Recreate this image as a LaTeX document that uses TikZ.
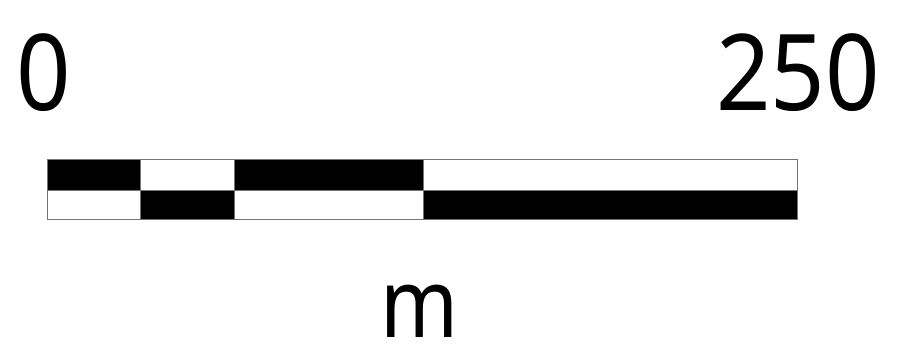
\documentclass[tikz,border=0pt]{standalone}
\usepackage{fontspec}
\setmainfont{Noto Sans}
\begin{document}
\begin{tikzpicture}[x=1pt,y=-1pt,
		blk/.style={fill=black,draw=black!55,line width=0.9pt},
		wht/.style={fill=white,draw=black!55,line width=0.9pt},
		num/.style={inner sep=0pt,anchor=base,xscale=0.9,font=\fontsize{106}{106}\selectfont},
		unit/.style={inner sep=0pt,anchor=base,xscale=0.87,font=\fontsize{96}{96}\selectfont}]
	\useasboundingbox (0,0) rectangle (901,363);
	% upper row
	\path[blk] (47,159) rectangle (140,190);
	\path[wht] (140,159) rectangle (234,190);
	\path[blk] (234,159) rectangle (423,190);
	\path[wht] (423,159) rectangle (797,190);
	% lower row
	\path[wht] (47,190) rectangle (140,219);
	\path[blk] (140,190) rectangle (234,219);
	\path[wht] (234,190) rectangle (423,219);
	\path[blk] (423,190) rectangle (797,219);
	% labels
	\node[num] (zero) at (44,111) {0};
	\node[num] (end) at (798,111) {250};
	\node[unit] (m) at (420,337) {m};
\end{tikzpicture}
\end{document}
